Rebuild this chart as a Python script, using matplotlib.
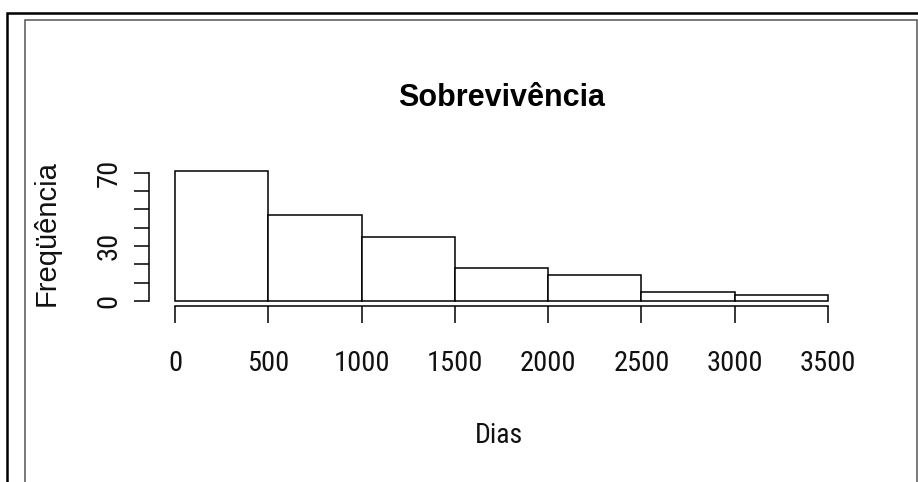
import matplotlib
matplotlib.use('Agg')
import matplotlib.pyplot as plt
from matplotlib import font_manager
from matplotlib.patches import Rectangle
import numpy as np

# Histogram data: survival time in days, 500-day bins
bin_edges = [0, 500, 1000, 1500, 2000, 2500, 3000, 3500]
counts = [71, 47, 35, 18, 14, 5, 3]
x_ticks = [0, 500, 1000, 1500, 2000, 2500, 3000, 3500]
y_ticks = [0, 10, 20, 30, 40, 50, 60, 70]
y_tick_labels = ['0', '', '', '30', '', '', '', '70']

title = 'Sobrevivência'
x_label = 'Dias'
y_label = 'Freqüência'

installed = {f.name for f in font_manager.fontManager.ttflist}
narrow_names = ['Liberation Sans Narrow', 'Arial Narrow', 'Roboto Condensed',
                'Open Sans Condensed', 'DejaVu Sans Condensed']
narrow = next((n for n in narrow_names if n in installed), None)
if narrow is None:
    narrow, tick_size, xlab_size = 'Liberation Sans', 18.5, 18
else:
    tick_size, xlab_size = 20.5, 20

W, H = 918, 482
fig = plt.figure(figsize=(W / 100, H / 100), dpi=100)
fig.patch.set_facecolor('white')

# plot region in pixels (left, top, right, bottom)
L, T, R, B = 148.9, 165.7, 854.1, 306.0
ax = fig.add_axes([L / W, 1 - B / H, (R - L) / W, (B - T) / H])

lw = 1.1
edges = np.array(bin_edges)
ax.bar(edges[:-1], counts, width=np.diff(edges), align='edge',
       facecolor='white', edgecolor='black', linewidth=lw)

# R-style axes: 4% padding, spines only across the tick range
xr = bin_edges[-1] - bin_edges[0]
ax.set_xlim(bin_edges[0] - 0.04 * xr, bin_edges[-1] + 0.04 * xr)
yr = max(counts)
ax.set_ylim(-0.04 * yr, yr * 1.04)

for s in ['top', 'right']:
    ax.spines[s].set_visible(False)
ax.spines['left'].set_bounds(y_ticks[0], y_ticks[-1])
ax.spines['bottom'].set_bounds(x_ticks[0], x_ticks[-1])
for s in ['left', 'bottom']:
    ax.spines[s].set_linewidth(lw)
    ax.spines[s].set_color('black')

ax.set_xticks(x_ticks)
ax.set_xticklabels([str(t) for t in x_ticks], fontfamily=narrow, fontsize=tick_size, color='#111111')
ax.set_yticks(y_ticks)
ax.set_yticklabels(y_tick_labels, fontfamily=narrow, fontsize=tick_size, color='#111111',
                   rotation=90, va='center')
ax.tick_params(axis='x', length=12.5, width=lw, pad=19.5)
ax.tick_params(axis='y', length=10.8, width=lw, pad=8)

fig.text(501.5 / W, 1 - 106 / H, title, ha='center', va='baseline',
         fontfamily='Liberation Sans', fontweight='bold', fontsize=22)
fig.text(499 / W, 1 - 443 / H, x_label, ha='center', va='baseline',
         fontfamily=narrow, fontsize=xlab_size, color='#111111')
fig.text(47 / W, 1 - 233.5 / H, y_label, ha='center', va='center', rotation=90,
         fontfamily='Liberation Sans', fontsize=21, color='#111111')

# window frames
fig.patches.append(Rectangle((7 / W, -0.1), 1.2, 1 - 13 / H + 0.1, transform=fig.transFigure,
                             fill=False, edgecolor='black', linewidth=1.8))
fig.patches.append(Rectangle((24.5 / W, -0.1), (916.5 - 24.5) / W, 1 - 20 / H + 0.1,
                             transform=fig.transFigure, fill=False,
                             edgecolor='#555555', linewidth=1.1))

fig.savefig('out.png', dpi=100)
